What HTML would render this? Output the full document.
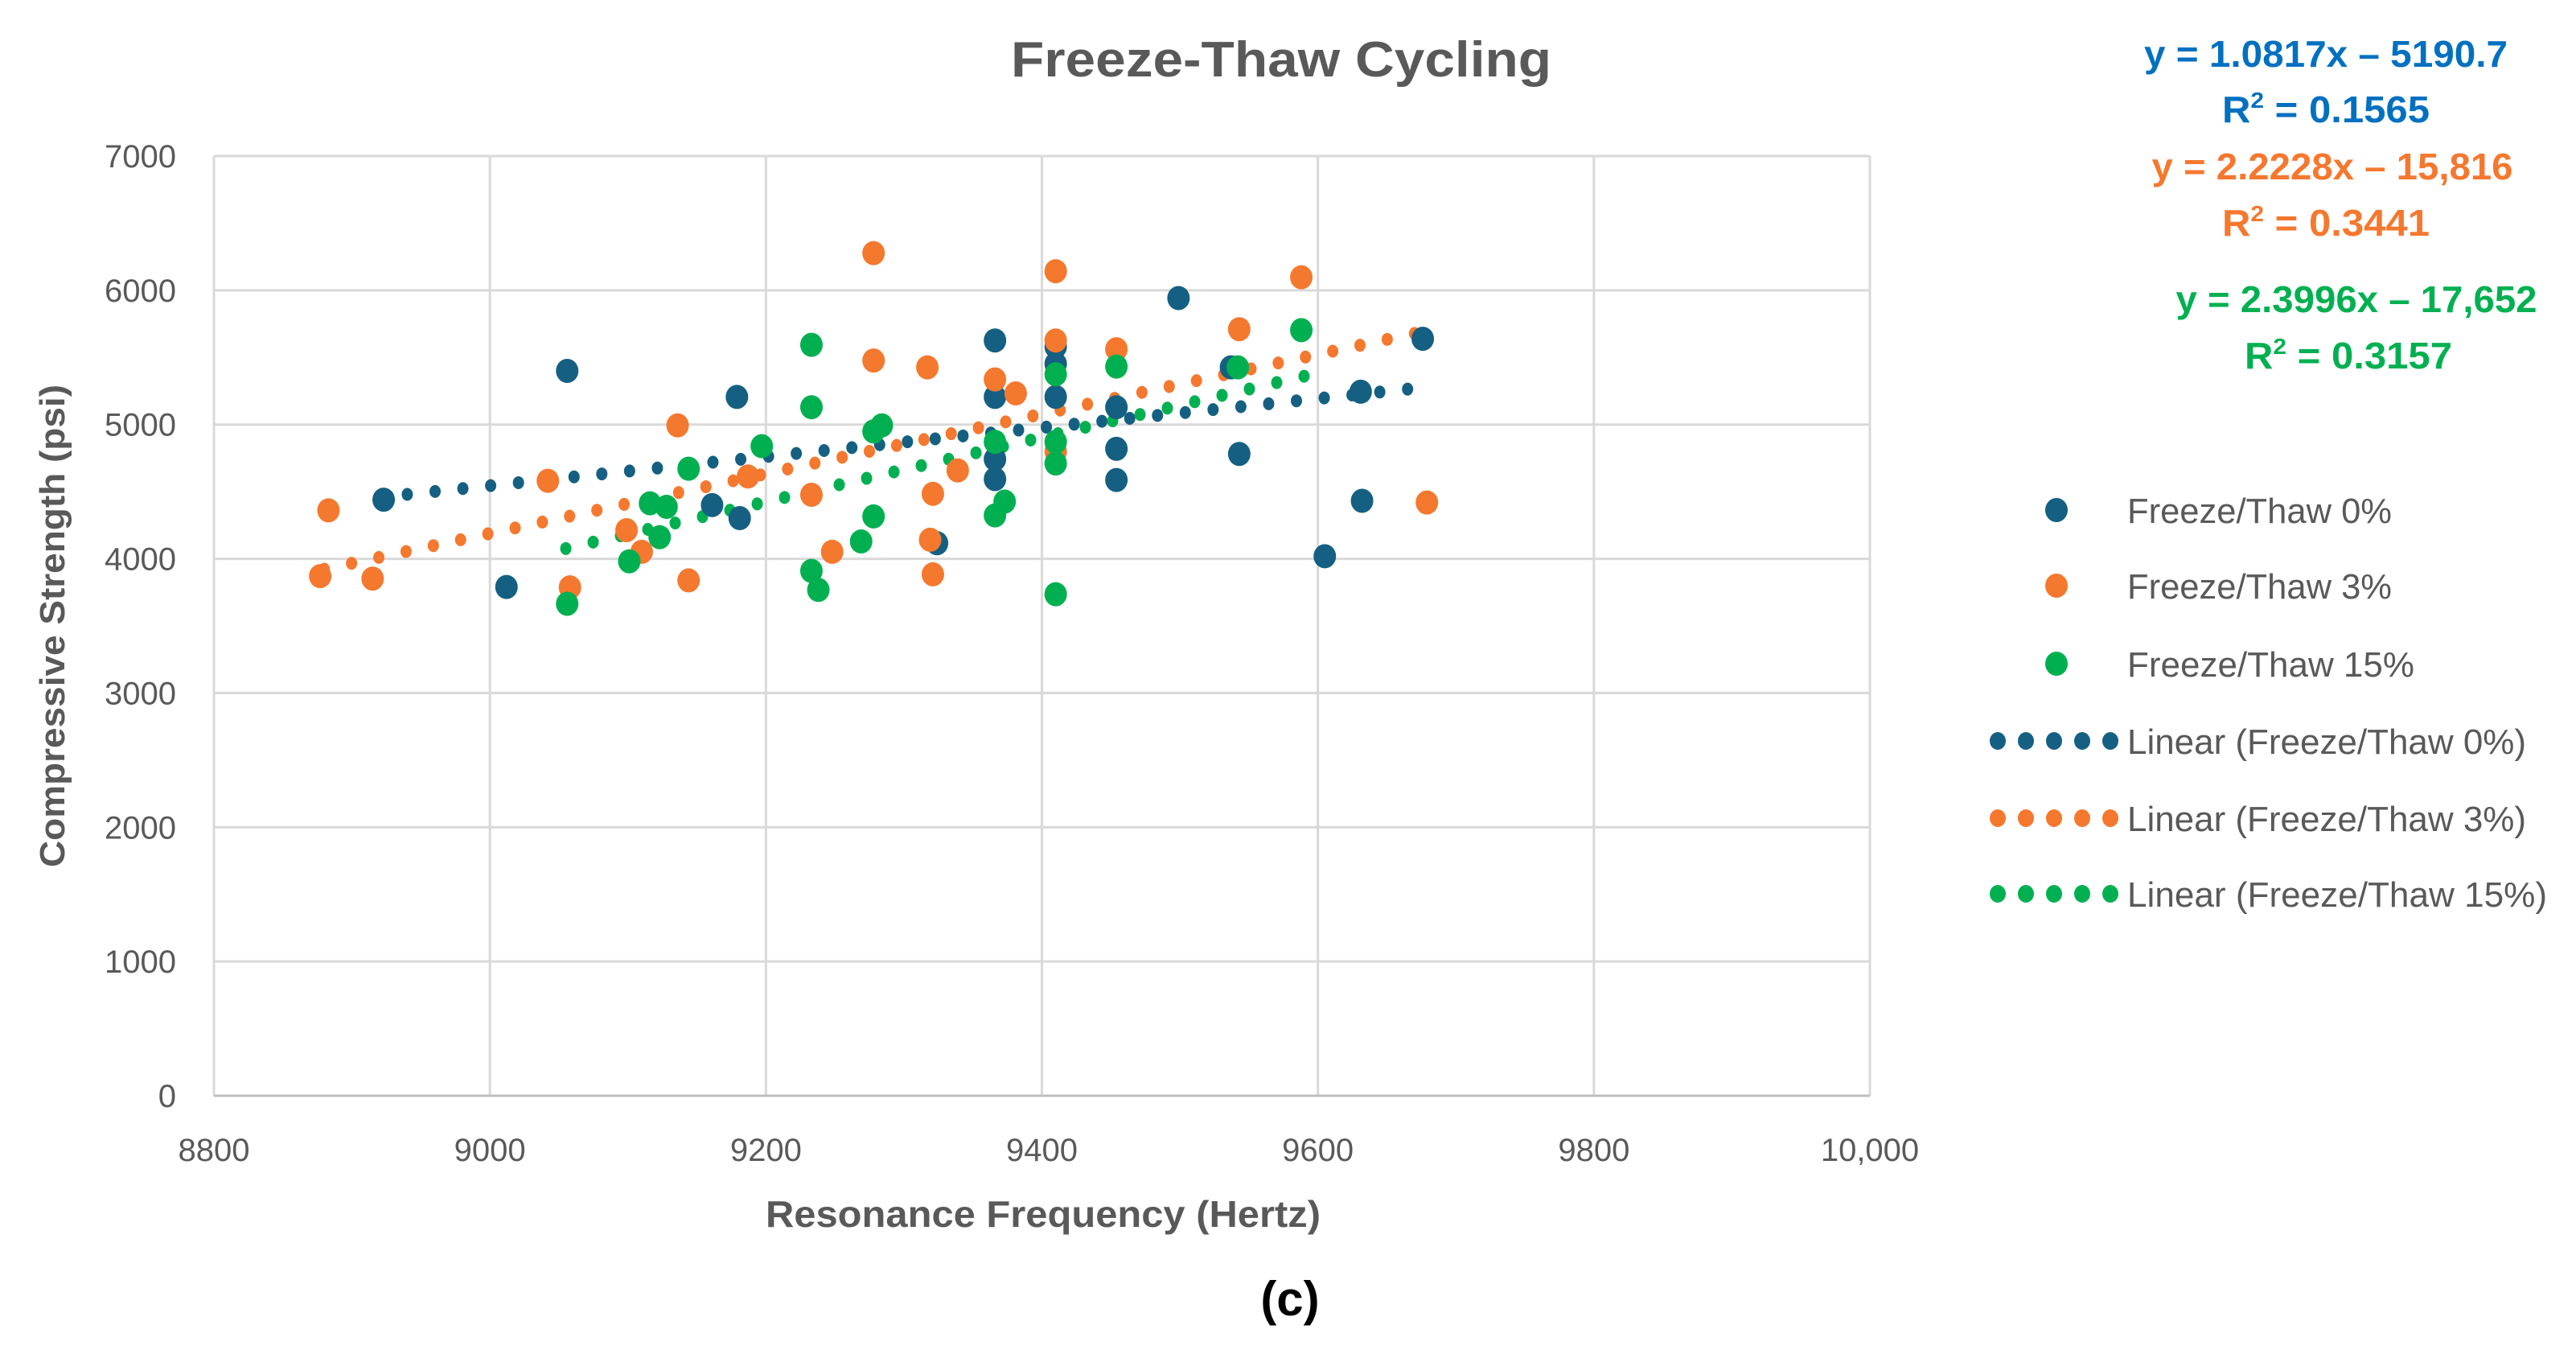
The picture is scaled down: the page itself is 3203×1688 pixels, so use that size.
<!DOCTYPE html>
<html><head><meta charset="utf-8"><style>
html,body{margin:0;padding:0;background:#fff;}
svg{display:block;}
text{font-family:"Liberation Sans",sans-serif;}
</style></head><body>
<svg id="chart" width="3203" height="1688" viewBox="0 0 3203 1688" xmlns="http://www.w3.org/2000/svg">
<g id="grid"></g>
<g id="axes"></g>
<g id="trends"></g>
<g id="points"></g>
<text x="1593" y="95" text-anchor="middle" font-size="62" font-weight="bold" fill="#595959" textLength="672" lengthAdjust="spacingAndGlyphs">Freeze-Thaw Cycling</text>
<text x="1297" y="1525" text-anchor="middle" font-size="46" font-weight="bold" fill="#595959" textLength="690" lengthAdjust="spacingAndGlyphs">Resonance Frequency (Hertz)</text>
<text transform="translate(80,778) rotate(-90)" text-anchor="middle" font-size="44" font-weight="bold" fill="#595959" textLength="600" lengthAdjust="spacingAndGlyphs">Compressive Strength (psi)</text>
<text x="1604" y="1635" text-anchor="middle" font-size="60" font-weight="bold" font-family="Liberation Serif, serif" fill="#000">(c)</text>
<g font-weight="bold" font-size="46" fill="#0070C0" text-anchor="middle">
<text x="2892" y="83" textLength="452" lengthAdjust="spacingAndGlyphs">y = 1.0817x – 5190.7</text>
<text x="2892" y="152" textLength="258" lengthAdjust="spacingAndGlyphs">R<tspan font-size="28" dy="-18">2</tspan><tspan dy="18"> = 0.1565</tspan></text>
</g>
<g font-weight="bold" font-size="46" fill="#F5782F" text-anchor="middle">
<text x="2900" y="223" textLength="449" lengthAdjust="spacingAndGlyphs">y = 2.2228x – 15,816</text>
<text x="2892" y="293" textLength="258" lengthAdjust="spacingAndGlyphs">R<tspan font-size="28" dy="-18">2</tspan><tspan dy="18"> = 0.3441</tspan></text>
</g>
<g font-weight="bold" font-size="46" fill="#00B050" text-anchor="middle">
<text x="2930" y="388" textLength="449" lengthAdjust="spacingAndGlyphs">y = 2.3996x – 17,652</text>
<text x="2920" y="458" textLength="258" lengthAdjust="spacingAndGlyphs">R<tspan font-size="28" dy="-18">2</tspan><tspan dy="18"> = 0.3157</tspan></text>
</g>
<g id="legend"></g>
</svg>
<script>
const xTicks = [8800, 9000, 9200, 9400, 9600, 9800, 10000];
const xTickLabels = ["8800", "9000", "9200", "9400", "9600", "9800", "10,000"];
const yTicks = [0, 1000, 2000, 3000, 4000, 5000, 6000, 7000];
const seriesNames = ["Freeze/Thaw 0%", "Freeze/Thaw 3%", "Freeze/Thaw 15%"];
const colors = ["#156082", "#F5782F", "#00B050"];
const freq0 = [8923,9012,9056,9179,9161,9181,9324,9366,9366,9366,9366,9410,9410,9410,9454,9454,9454,9499,9543,9537,9605,9631,9632,9676];
const str0  = [4440,3790,5400,5206,4400,4303,4116,5626,5206,4742,4594,5452,5206,5580,4819,4587,5129,5942,4781,5426,4019,5245,4432,5639];
const freq3 = [8877,8883,8915,9042,9058,9099,9110,9136,9144,9187,9233,9248,9278,9278,9317,9321,9321,9319,9339,9366,9381,9410,9410,9410,9454,9543,9588,9679];
const str3  = [3871,4361,3852,4581,3787,4213,4052,4994,3839,4613,4477,4052,6277,5477,5426,4484,3884,4142,4658,5336,5232,6142,5626,4800,5561,5710,6097,4419];
const freq15 = [9056,9101,9116,9123,9128,9144,9197,9233,9233,9233,9238,9269,9278,9278,9284,9366,9373,9366,9410,9410,9410,9410,9454,9542,9588];
const str15  = [3665,3981,4413,4161,4387,4671,4839,5594,5129,3910,3768,4129,4316,4949,4994,4323,4426,4871,3736,4710,4871,5374,5432,5426,5703];
const slopes = [1.0817, 2.2228, 2.3996];
const intercepts = [-5190.7, -15816, -17652];
const trendStart = [8920, 8880, 9055];
const trendEnd = [9665, 9670, 9590];

const L=266,R=2325,T=194,B=1362;
const xs=v=>L+(v-8800)/1200*(R-L);
const ys=v=>B-v/7000*(B-T);
const NS="http://www.w3.org/2000/svg";
function mk(tag,attrs,parent){const e=document.createElementNS(NS,tag);for(const k in attrs)e.setAttribute(k,attrs[k]);parent.appendChild(e);return e;}
const grid=document.getElementById('grid'),axes=document.getElementById('axes');
xTicks.forEach((t,i)=>{
  const l=mk('line',{x1:xs(t),x2:xs(t),y1:T,y2:B,stroke:'#D9D9D9','stroke-width':3},grid);
  
  
  const tx=mk('text',{x:xs(t),y:1443,'text-anchor':'middle','font-size':40,fill:'#595959'},axes);
  tx.textContent=xTickLabels[i];
  
  
});
yTicks.forEach(t=>{
  const l=mk('line',{x1:L,x2:R,y1:ys(t),y2:ys(t),stroke:t===0?'#BFBFBF':'#D9D9D9','stroke-width':3},grid);
  
  
  const tx=mk('text',{x:219,y:ys(t)+14,'text-anchor':'end','font-size':40,fill:'#595959'},axes);
  tx.textContent=String(t);
  
  
});
const trends=document.getElementById('trends');
for(let s=0;s<3;s++){
  const x1=xs(trendStart[s]),y1=ys(slopes[s]*trendStart[s]+intercepts[s]);
  const x2=xs(trendEnd[s]),y2=ys(slopes[s]*trendEnd[s]+intercepts[s]);
  const len=Math.hypot(x2-x1,y2-y1),n=Math.round(len/35);
  const g=mk('g',{fill:colors[s]},trends);
  
  
  for(let k=0;k<=n;k++){const f=k/n;mk('ellipse',{cx:x1+(x2-x1)*f,cy:y1+(y2-y1)*f,rx:7,ry:8},g);}
}
const pts=document.getElementById('points');
[[freq0,str0],[freq3,str3],[freq15,str15]].forEach((d,s)=>{
  const g=mk('g',{fill:colors[s]},pts);
  
  
  d[0].forEach((f,i)=>{
    const c=mk('ellipse',{cx:xs(f),cy:ys(d[1][i]),rx:14,ry:15},g);
    
    
  });
});
const lg=document.getElementById('legend');
const ly=[634,728,825,921,1017,1111];
seriesNames.forEach((n,s)=>{
  mk('ellipse',{cx:2557,cy:ly[s],rx:14,ry:15,fill:colors[s]},lg);
  const t=mk('text',{x:2645,y:ly[s]+16,'font-size':44,fill:'#595959',textLength:s==2?357:329,lengthAdjust:'spacingAndGlyphs'},lg);
  t.textContent=n;
  
  
  for(let k=0;k<5;k++)mk('ellipse',{cx:2484+k*35,cy:ly[s+3],rx:10,ry:11,fill:colors[s]},lg);
  const t2=mk('text',{x:2645,y:ly[s+3]+16,'font-size':44,fill:'#595959',textLength:s==2?522:496,lengthAdjust:'spacingAndGlyphs'},lg);
  t2.textContent='Linear ('+n+')';
  
  
});
</script>
</body></html>
